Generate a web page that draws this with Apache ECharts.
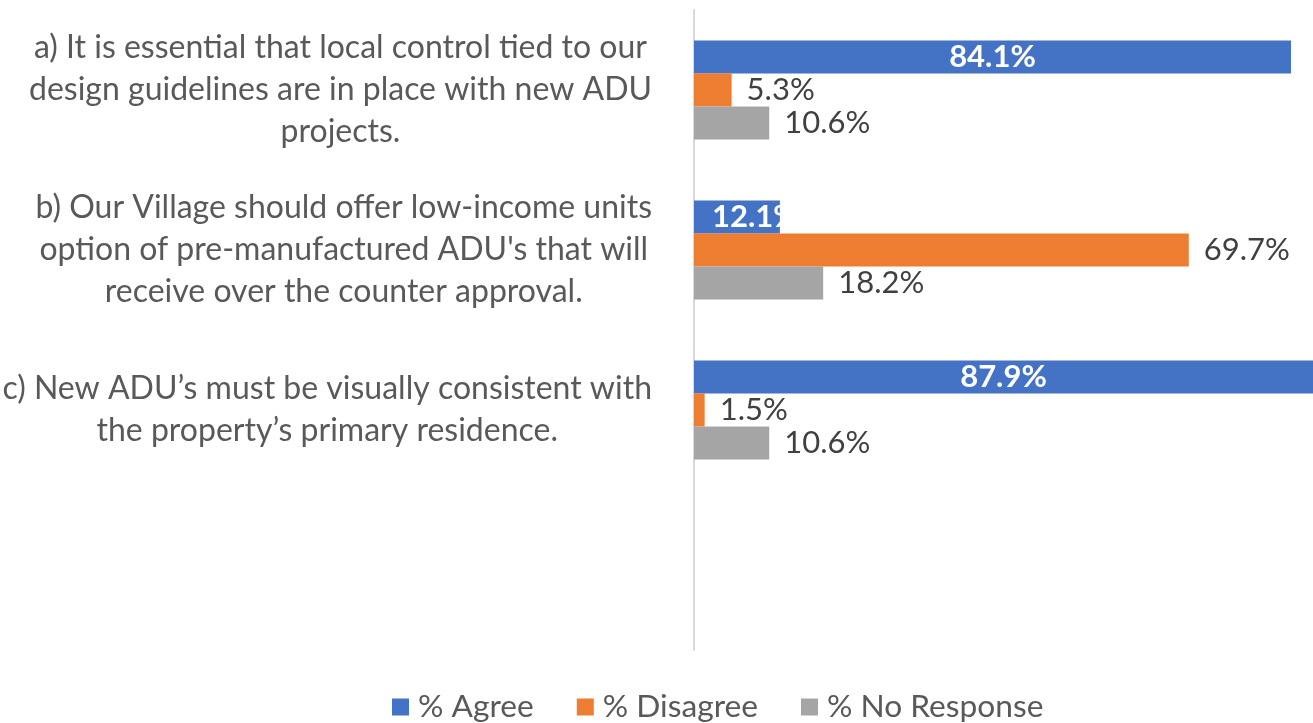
<!DOCTYPE html>
<html>
<head>
<meta charset="utf-8">
<script src="https://cdn.jsdelivr.net/npm/echarts@6/dist/echarts.min.js"></script>
<style>
html,body{margin:0;padding:0;background:#fff;}
#chart{width:1313px;height:723px;}
</style>
</head>
<body>
<div id="chart"></div>
<script>
const categories = [
  "a) It is essential that local control tied to our\ndesign guidelines are in place with new ADU\nprojects.",
  "b) Our Village should offer low-income units\noption of pre-manufactured ADU's that will\nreceive over the counter approval.",
  "c) New ADU’s must be visually consistent with\nthe property’s primary residence.",
  ""
];
const seriesNames = ["% Agree", "% Disagree", "% No Response"];
const agree = [84.1, 12.1, 87.9, null];
const disagree = [5.3, 69.7, 1.5, null];
const noResponse = [10.6, 18.2, 10.6, null];
const colors = ["#4472C4", "#ED7D31", "#A5A5A5"];

const FONT = "Lato";
const FS = 31;
const X_MAX = 87.2;
const fmt = p => (p.value == null ? "" : p.value.toFixed(1) + "%");

function agreeData(vals) {
  return vals.map(v => {
    if (v == null) return { value: null };
    if (v < 20) {
      return { value: v, label: { position: "insideLeft", distance: 18 } };
    }
    return { value: v };
  });
}

const chart = echarts.init(document.getElementById("chart"));
chart.setOption({
  animation: false,
  textStyle: { fontFamily: FONT },
  grid: { left: 694, right: 0, top: 10, bottom: 73, containLabel: false, outerBoundsMode: "none" },
  legend: {
    data: seriesNames,
    left: 392,
    top: 690,
    padding: 0,
    icon: "rect",
    itemWidth: 17,
    itemHeight: 17,
    itemGap: 43,
    textStyle: { fontFamily: FONT, fontSize: 31.7, color: "#595959", lineHeight: 34, padding: [0, 0, 0, 4] }
  },
  xAxis: {
    type: "value",
    min: 0,
    max: X_MAX,
    show: false,
    splitLine: { show: false }
  },
  yAxis: {
    type: "category",
    inverse: true,
    data: categories,
    axisLine: { show: true, lineStyle: { color: "#D9D9D9", width: 2 } },
    axisTick: { show: false },
    axisLabel: {
      margin: 42,
      align: "right",
      formatter: v => v.split("\n").map(l => "{c|" + l + "}").join("\n"),
      rich: {
        c: { align: "center", fontFamily: FONT, fontSize: 32, color: "#595959", lineHeight: 42 }
      }
    }
  },
  series: [
    {
      name: seriesNames[0], type: "bar", data: agreeData(agree),
      itemStyle: { color: colors[0] },
      barGap: "0%", barCategoryGap: "38%",
      label: { show: true, position: "inside", formatter: fmt, color: "#FFFFFF", fontWeight: "bold", fontFamily: FONT, fontSize: FS }
    },
    {
      name: seriesNames[1], type: "bar", data: disagree,
      itemStyle: { color: colors[1] },
      barGap: "0%", barCategoryGap: "38%",
      label: { show: true, position: "right", distance: 15, formatter: fmt, color: "#404040", fontFamily: FONT, fontSize: FS }
    },
    {
      name: seriesNames[2], type: "bar", data: noResponse,
      itemStyle: { color: colors[2] },
      barGap: "0%", barCategoryGap: "38%",
      label: { show: true, position: "right", distance: 15, formatter: fmt, color: "#404040", fontFamily: FONT, fontSize: FS }
    }
  ]
});
</script>
</body>
</html>
